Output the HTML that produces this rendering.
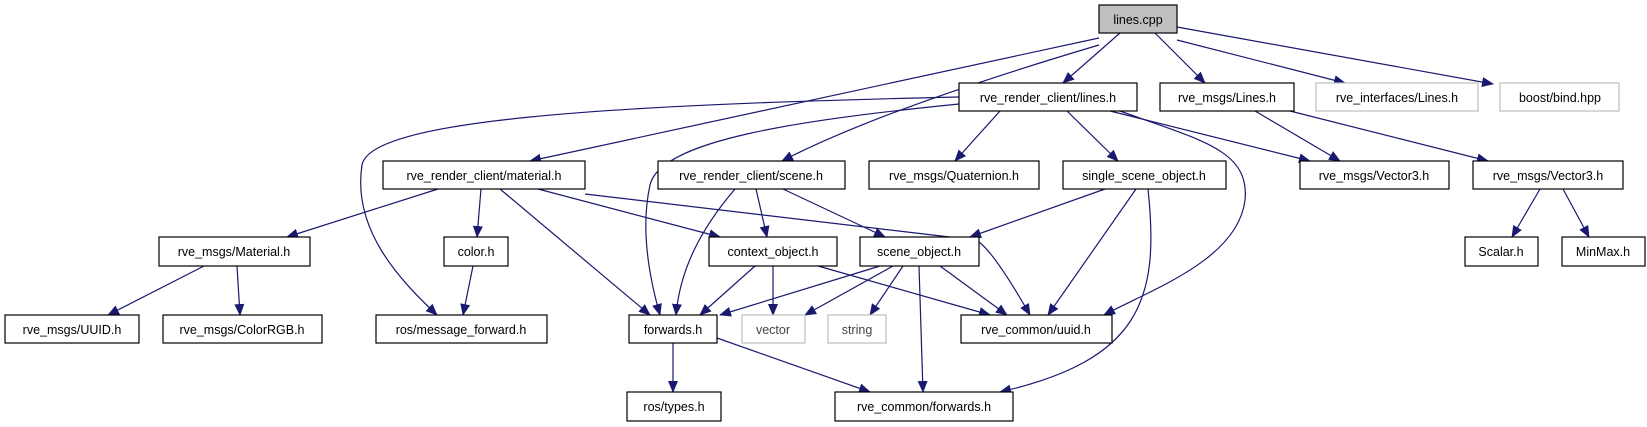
<!DOCTYPE html>
<html><head><meta charset="utf-8"><style>
html,body{margin:0;padding:0;background:#fff;}
svg{display:block;}
text{font-family:"Liberation Sans",sans-serif;font-size:12.5px;fill:#000;text-anchor:middle;}
.e{fill:none;stroke:#191970;stroke-width:1.2;marker-end:url(#a);}
.n{fill:#fff;stroke:#000;stroke-width:1.2;}
.g{fill:#fff;stroke:#bfbfbf;stroke-width:1.2;}
</style></head><body>
<svg width="1647" height="427" viewBox="0 0 1647 427" xmlns="http://www.w3.org/2000/svg">
<defs><marker id="a" markerUnits="userSpaceOnUse" markerWidth="12" markerHeight="12" viewBox="0 0 12 10" refX="11" refY="5" orient="auto"><path d="M0,0 L12,5 L0,10 z" fill="#191970"/></marker></defs>
<!-- edges -->
<path class="e" d="M1120,33 L1063,83"/>
<path class="e" d="M1155,33 L1205,83"/>
<path class="e" d="M1177,40 L1345,83"/>
<path class="e" d="M1177,27 L1493,84"/>
<path class="e" d="M1099,38 L530,161"/>
<path class="e" d="M1099,45 Q880,110 782,161"/>
<path class="e" d="M959,97 C600,105 370,120 362,165 C352,230 400,280 437,315"/>
<path class="e" d="M959,104 C800,120 660,140 650,185 C640,230 650,280 660,315"/>
<path class="e" d="M1000,111 L955,161"/>
<path class="e" d="M1067,111 L1118,161"/>
<path class="e" d="M1110,111 L1310,161"/>
<path class="e" d="M1120,111 C1200,140 1250,150 1245,200 C1238,260 1150,290 1104,315"/>
<path class="e" d="M1255,111 L1340,161"/>
<path class="e" d="M1290,111 L1488,161"/>
<path class="e" d="M1540,189 L1512,237"/>
<path class="e" d="M1563,189 L1589,237"/>
<path class="e" d="M438,189 L287,237"/>
<path class="e" d="M481,189 L477,237"/>
<path class="e" d="M500,189 L650,315"/>
<path class="e" d="M538,189 L720,237"/>
<path class="e" d="M585,194 L975,240 Q990,245 1030,315"/>
<path class="e" d="M756,189 L767,237"/>
<path class="e" d="M735,189 C700,230 680,270 676,315"/>
<path class="e" d="M783,189 L885,237"/>
<path class="e" d="M1105,189 L970,237"/>
<path class="e" d="M1136,189 L1048,315"/>
<path class="e" d="M1148,189 C1160,300 1140,360 1000,392"/>
<path class="e" d="M755,266 L700,315"/>
<path class="e" d="M773,266 L773,315"/>
<path class="e" d="M818,266 L990,315"/>
<path class="e" d="M880,266 L720,315"/>
<path class="e" d="M893,266 L805,315"/>
<path class="e" d="M903,266 L870,315"/>
<path class="e" d="M940,266 L1007,315"/>
<path class="e" d="M919,266 L923,392"/>
<path class="e" d="M473,266 L463,315"/>
<path class="e" d="M204,266 L108,315"/>
<path class="e" d="M237,266 L240,315"/>
<path class="e" d="M673,343 L673,392"/>
<path class="e" d="M717,338 L870,392"/>
<!-- nodes -->
<rect x="1099" y="5" width="78" height="28" fill="#bfbfbf" stroke="#000" stroke-width="1.2"/><text x="1138" y="24">lines.cpp</text>
<rect class="n" x="959" y="83" width="178" height="28"/><text x="1048" y="102">rve_render_client/lines.h</text>
<rect class="n" x="1160" y="83" width="134" height="28"/><text x="1227" y="102">rve_msgs/Lines.h</text>
<rect class="g" x="1316" y="83" width="162" height="28"/><text x="1397" y="102">rve_interfaces/Lines.h</text>
<rect class="g" x="1500" y="83" width="119" height="28"/><text x="1560" y="102">boost/bind.hpp</text>
<rect class="n" x="383" y="161" width="202" height="28"/><text x="484" y="180">rve_render_client/material.h</text>
<rect class="n" x="658" y="161" width="187" height="28"/><text x="751" y="180">rve_render_client/scene.h</text>
<rect class="n" x="869" y="161" width="170" height="28"/><text x="954" y="180">rve_msgs/Quaternion.h</text>
<rect class="n" x="1063" y="161" width="163" height="28"/><text x="1144" y="180">single_scene_object.h</text>
<rect class="n" x="1300" y="161" width="149" height="28"/><text x="1374" y="180">rve_msgs/Vector3.h</text>
<rect class="n" x="1473" y="161" width="150" height="28"/><text x="1548" y="180">rve_msgs/Vector3.h</text>
<rect class="n" x="159" y="237" width="151" height="29"/><text x="234" y="256">rve_msgs/Material.h</text>
<rect class="n" x="444" y="237" width="64" height="29"/><text x="476" y="256">color.h</text>
<rect class="n" x="709" y="237" width="128" height="29"/><text x="773" y="256">context_object.h</text>
<rect class="n" x="860" y="237" width="119" height="29"/><text x="919" y="256">scene_object.h</text>
<rect class="n" x="1465" y="237" width="73" height="29"/><text x="1501" y="256">Scalar.h</text>
<rect class="n" x="1562" y="237" width="83" height="29"/><text x="1603" y="256">MinMax.h</text>
<rect class="n" x="5" y="315" width="134" height="28"/><text x="72" y="334">rve_msgs/UUID.h</text>
<rect class="n" x="163" y="315" width="159" height="28"/><text x="242" y="334">rve_msgs/ColorRGB.h</text>
<rect class="n" x="376" y="315" width="171" height="28"/><text x="461" y="334">ros/message_forward.h</text>
<rect class="n" x="629" y="315" width="88" height="28"/><text x="673" y="334">forwards.h</text>
<rect class="g" x="742" y="315" width="63" height="28"/><text x="773" y="334" style="fill:#444">vector</text>
<rect class="g" x="828" y="315" width="58" height="28"/><text x="857" y="334" style="fill:#444">string</text>
<rect class="n" x="961" y="315" width="151" height="28"/><text x="1036" y="334">rve_common/uuid.h</text>
<rect class="n" x="627" y="392" width="94" height="29"/><text x="674" y="411">ros/types.h</text>
<rect class="n" x="835" y="392" width="178" height="29"/><text x="924" y="411">rve_common/forwards.h</text>
</svg>
</body></html>
